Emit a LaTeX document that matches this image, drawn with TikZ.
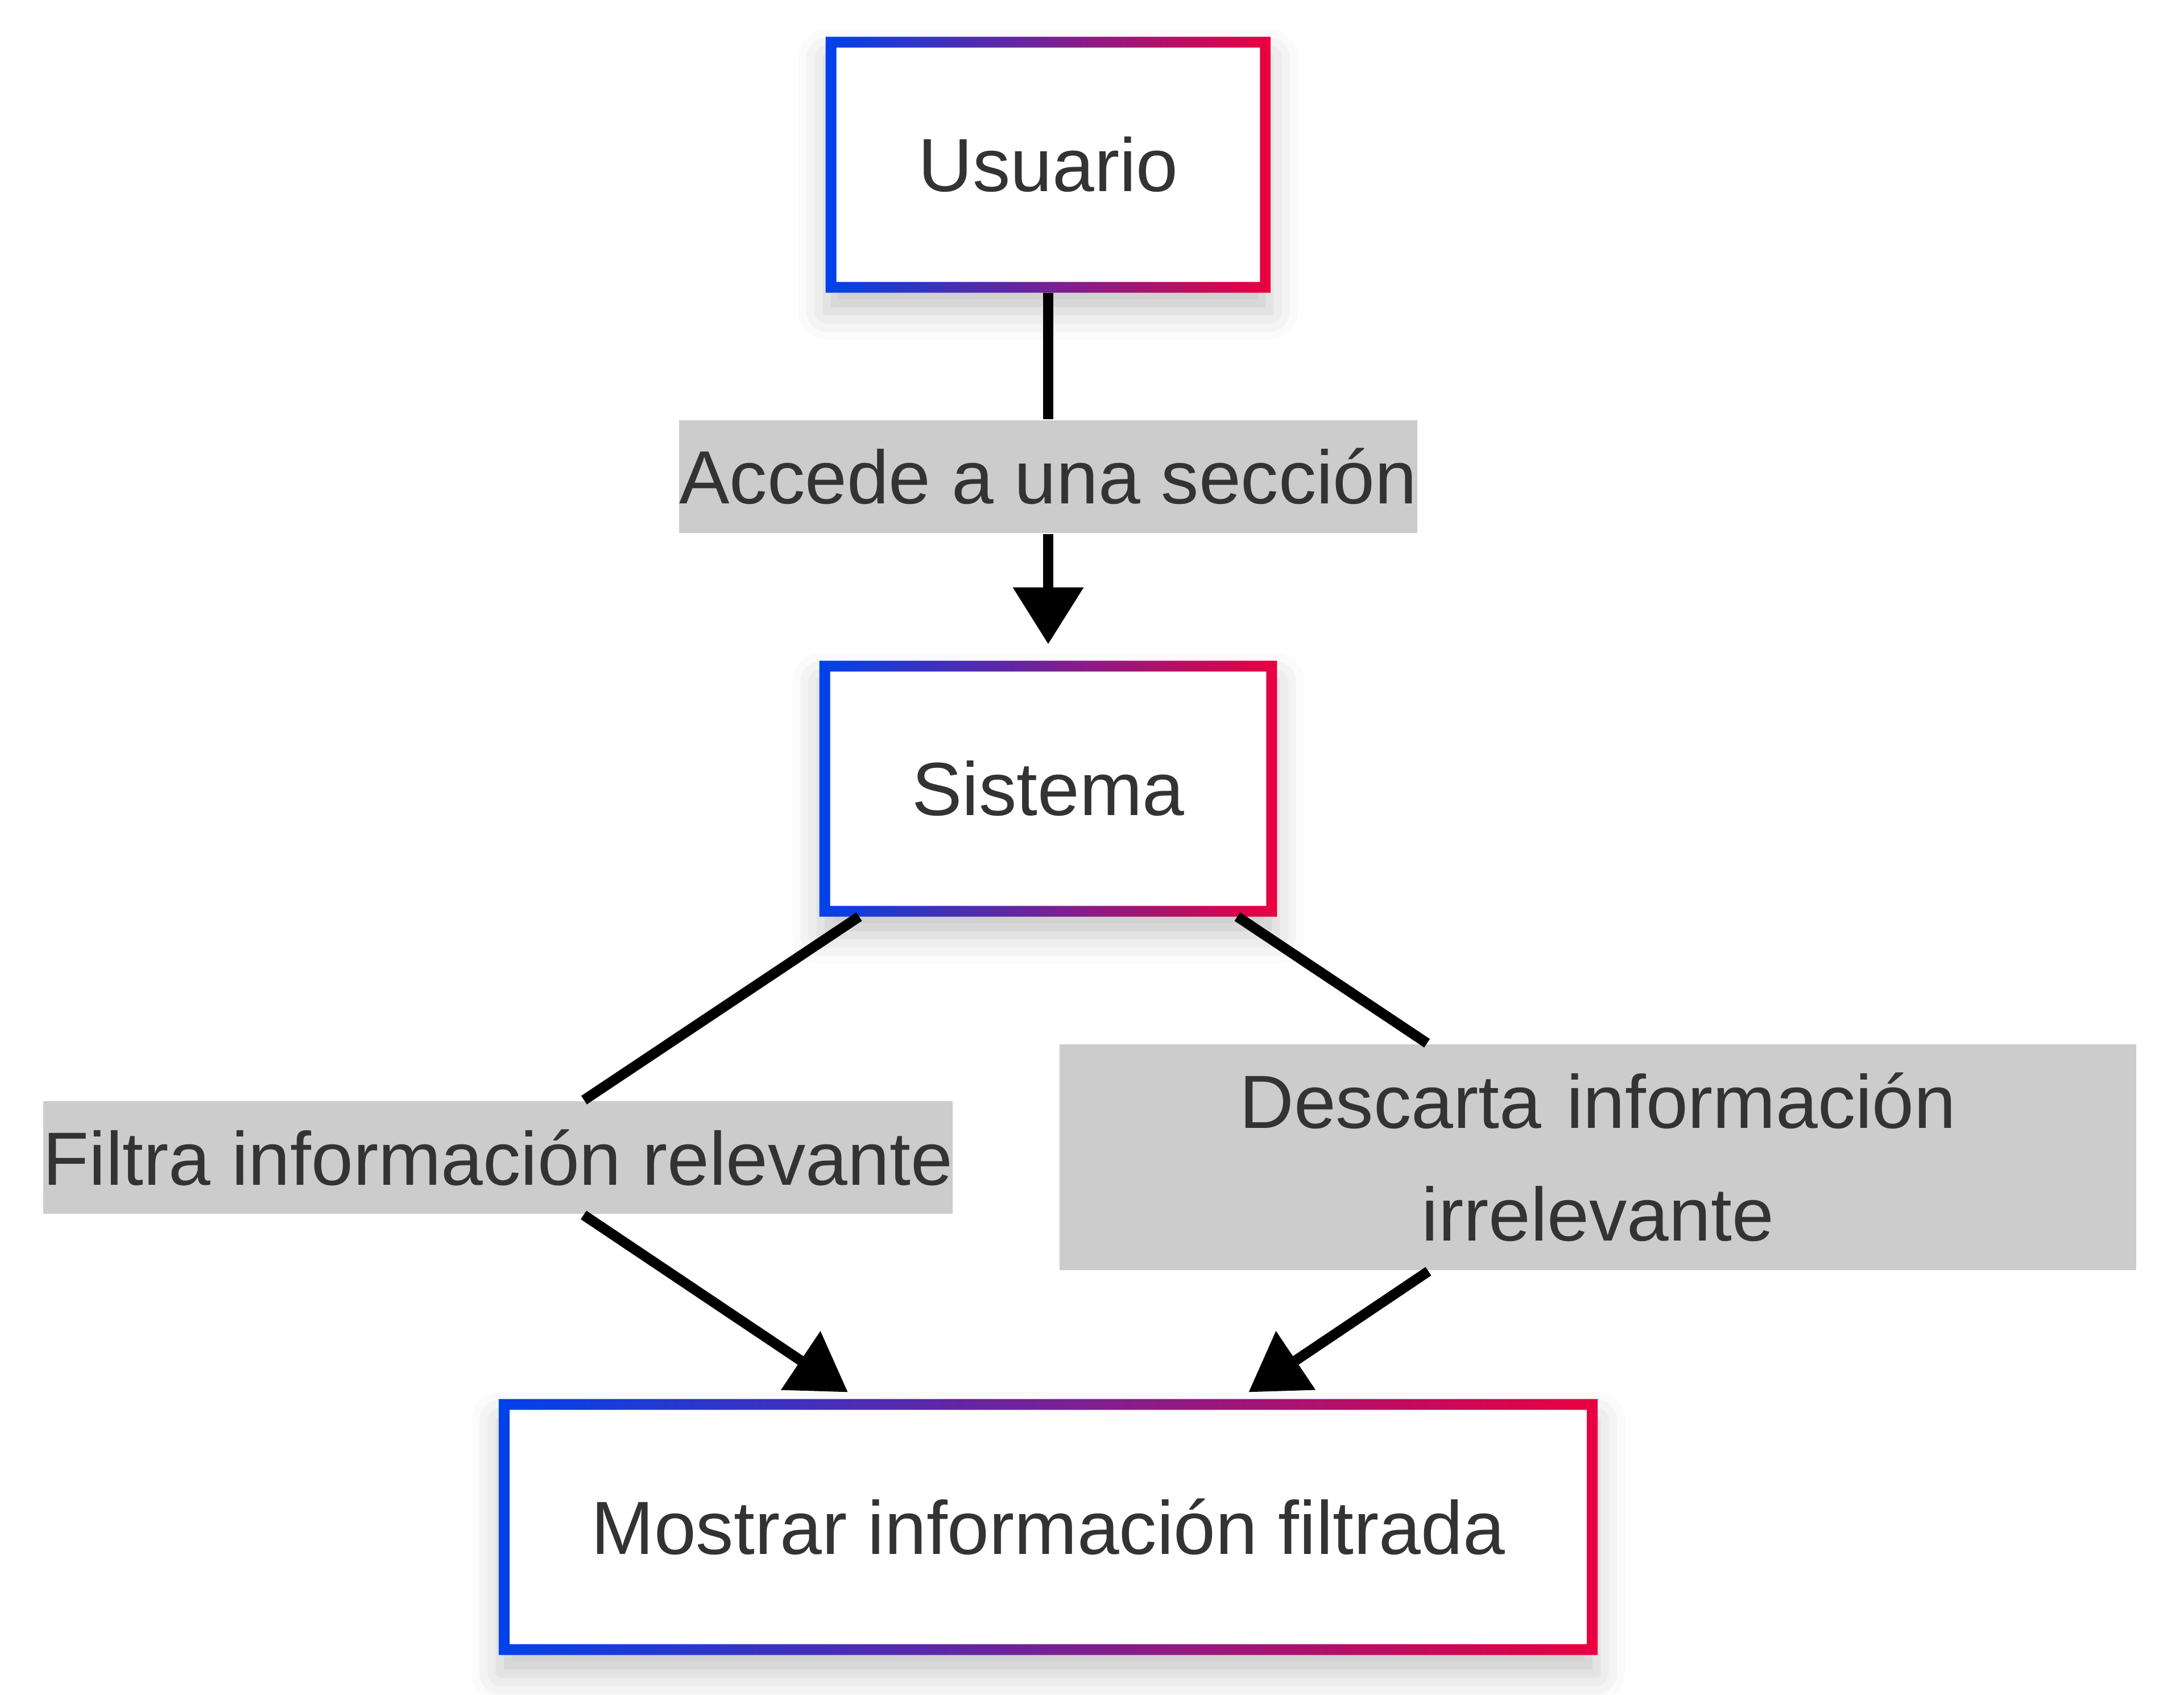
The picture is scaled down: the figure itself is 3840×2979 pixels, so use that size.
\documentclass[tikz,border=0pt]{standalone}
\usepackage{fontspec}
\setmainfont{Liberation Sans}
\usetikzlibrary{arrows.meta,shadows.blur}

\definecolor{azulborde}{RGB}{0,66,235}
\definecolor{rojoborde}{RGB}{235,0,64}
\definecolor{grisetiqueta}{HTML}{CCCCCC}
\definecolor{texto}{HTML}{333333}

\tikzset{
  caja/.style={rectangle, fill=white, inner xsep=16.1pt, inner ysep=0pt,
    minimum height=44.6pt, text=texto, font=\fontsize{13.26}{16}\selectfont,
    blur shadow={shadow xshift=0pt, shadow yshift=-3.5pt,
      shadow blur radius=5pt, shadow opacity=22}},
  etiqueta/.style={rectangle, fill=grisetiqueta, inner sep=0pt,
    minimum height=19.8pt, text=texto, font=\fontsize{13.26}{19.8}\selectfont},
  flecha/.style={line width=1.8pt, -{Triangle[length=10pt,width=12pt]}}
}

\begin{document}
\begin{tikzpicture}[x=0.1pt, y=-0.1pt]
  \useasboundingbox (0,0) rectangle (3840,2979);

  % Draw the labels
  \node[etiqueta] (accede) at (1843,837.5) {Accede a una sección};
  \node[etiqueta] (filtra) at (875.5,2035) {Filtra información relevante};
  \node[etiqueta, text width=189.3pt, minimum height=39.7pt, align=center]
    (descarta) at (2809.5,2034.5) {Descarta información\\irrelevante};

  % Draw the boxes
  \node[caja] (usuario) at (1843,289.5) {Usuario};
  \node[caja] (sistema) at (1843,1386.5) {Sistema};
  \node[caja] (mostrar) at (1843,2684.5) {Mostrar información filtrada};

  \foreach \n in {usuario,sistema,mostrar}
    \shade[left color=azulborde, right color=rojoborde, even odd rule]
      (\n.south west) rectangle (\n.north east)
      ([shift={(1.9pt,1.9pt)}]\n.south west) rectangle ([shift={(-1.9pt,-1.9pt)}]\n.north east);

  % Draw the edges
  \draw[flecha] (usuario) -- (accede) -- ([yshift=2.9pt]sistema.north);
  \draw[flecha] ([xshift=7pt]sistema.south west) -- (filtra)
    -- ([shift={(61.4pt,1.2pt)}]mostrar.north west);
  \draw[flecha] ([xshift=-7pt]sistema.south east) -- (descarta)
    -- ([shift={(-61.4pt,1.2pt)}]mostrar.north east);
\end{tikzpicture}
\end{document}
